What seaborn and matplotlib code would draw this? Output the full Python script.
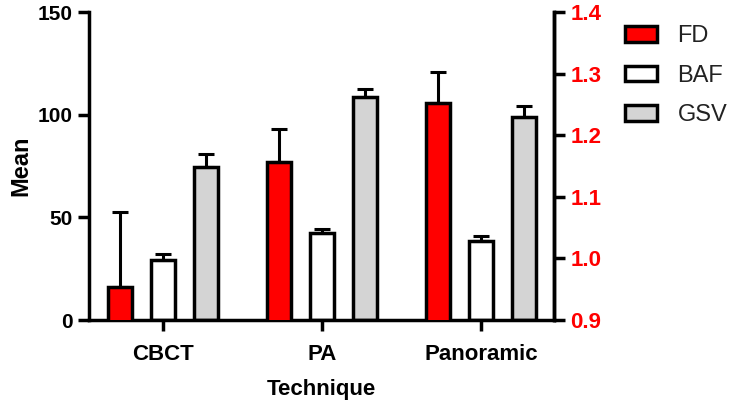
import pandas as pd
import matplotlib
matplotlib.use("Agg")
import matplotlib.pyplot as plt
from matplotlib.patches import Patch
import seaborn as sns

# values
techniques = ["CBCT", "PA", "Panoramic"]
series = ["FD", "BAF", "GSV"]
fd_mean = [0.954, 1.157, 1.252]
fd_err = [0.121, 0.053, 0.051]
baf_mean = [29.2, 42.5, 38.5]
baf_err = [2.8, 2.0, 2.5]
gsv_mean = [74.7, 108.8, 99.0]
gsv_err = [6.2, 3.6, 5.4]

colors = {"FD": "#ff0000", "BAF": "#ffffff", "GSV": "#d4d4d4"}

sns.set_style("ticks", {"axes.edgecolor": "black", "text.color": "black",
                        "xtick.color": "black", "ytick.color": "black",
                        "axes.labelcolor": "black"})
plt.rcParams["font.family"] = ["Liberation Sans", "DejaVu Sans"]

left_df = pd.DataFrame({
    "Technique": techniques * 2,
    "Series": ["BAF"] * 3 + ["GSV"] * 3,
    "Mean": baf_mean + gsv_mean,
    "Err": baf_err + gsv_err,
})
right_df = pd.DataFrame({
    "Technique": techniques,
    "Series": ["FD"] * 3,
    "Mean": fd_mean,
    "Err": fd_err,
})

fig = plt.figure(figsize=(7.34, 4.2), dpi=100)
ax = fig.add_axes([0.121, 0.238, 0.634, 0.733])
ax2 = ax.twinx()

lw = 2.5
bar_kw = dict(x="Technique", y="Mean", hue="Series", hue_order=series,
              order=techniques, palette=colors, width=0.81, gap=0.44,
              dodge=True, saturation=1, edgecolor="black", linewidth=lw,
              legend=False, errorbar=None)
sns.barplot(data=left_df, ax=ax, **bar_kw)
sns.barplot(data=right_df, ax=ax2, **bar_kw)


def add_errors(axis, df):
    bars = [p for p in axis.patches if p.get_height() > 0]
    bars.sort(key=lambda p: p.get_x())
    df = df.copy()
    df["pos"] = df["Technique"].map(techniques.index) * 10 + df["Series"].map(series.index)
    df = df.sort_values("pos")
    for p, (_, row) in zip(bars, df.iterrows()):
        xc = p.get_x() + p.get_width() / 2
        axis.errorbar(xc, row["Mean"], yerr=[[0], [row["Err"]]], fmt="none",
                      ecolor="black", elinewidth=2.2, capsize=6, capthick=2.2, zorder=1)


add_errors(ax, left_df)
add_errors(ax2, right_df)

ax.set_xlim(-0.465, 2.46)
ax.set_ylim(0, 150)
ax.set_yticks([0, 50, 100, 150])
ax2.set_ylim(0.9, 1.4)
ax2.set_yticks([0.9, 1.0, 1.1, 1.2, 1.3, 1.4])
ax2.set_yticklabels(["0.9", "1.0", "1.1", "1.2", "1.3", "1.4"])

for a in (ax, ax2):
    a.spines["top"].set_visible(False)
    for s in a.spines.values():
        s.set_linewidth(lw)
    a.tick_params(width=lw, length=8, labelsize=15)
    for lab in a.get_xticklabels() + a.get_yticklabels():
        lab.set_fontweight("bold")

ax2.spines["left"].set_visible(False)
ax2.spines["bottom"].set_visible(False)
ax2.tick_params(axis="y", labelcolor="red", labelsize=16)
ax.tick_params(axis="x", pad=9, labelsize=16)

ax.set_ylabel("Mean", fontsize=17, fontweight="bold", labelpad=4)
ax.set_xlabel("Technique", fontsize=16, fontweight="bold", labelpad=10)
ax2.set_ylabel("")

handles = [Patch(facecolor=colors[s], edgecolor="black", linewidth=lw, label=s) for s in series]
fig.legend(handles=handles, loc="upper left", bbox_to_anchor=(0.823, 0.99),
           frameon=False, fontsize=17, handlelength=1.36, handleheight=0.64,
           labelspacing=0.74, handletextpad=0.85, labelcolor="#222222")

fig.savefig("out.png", dpi=100)
